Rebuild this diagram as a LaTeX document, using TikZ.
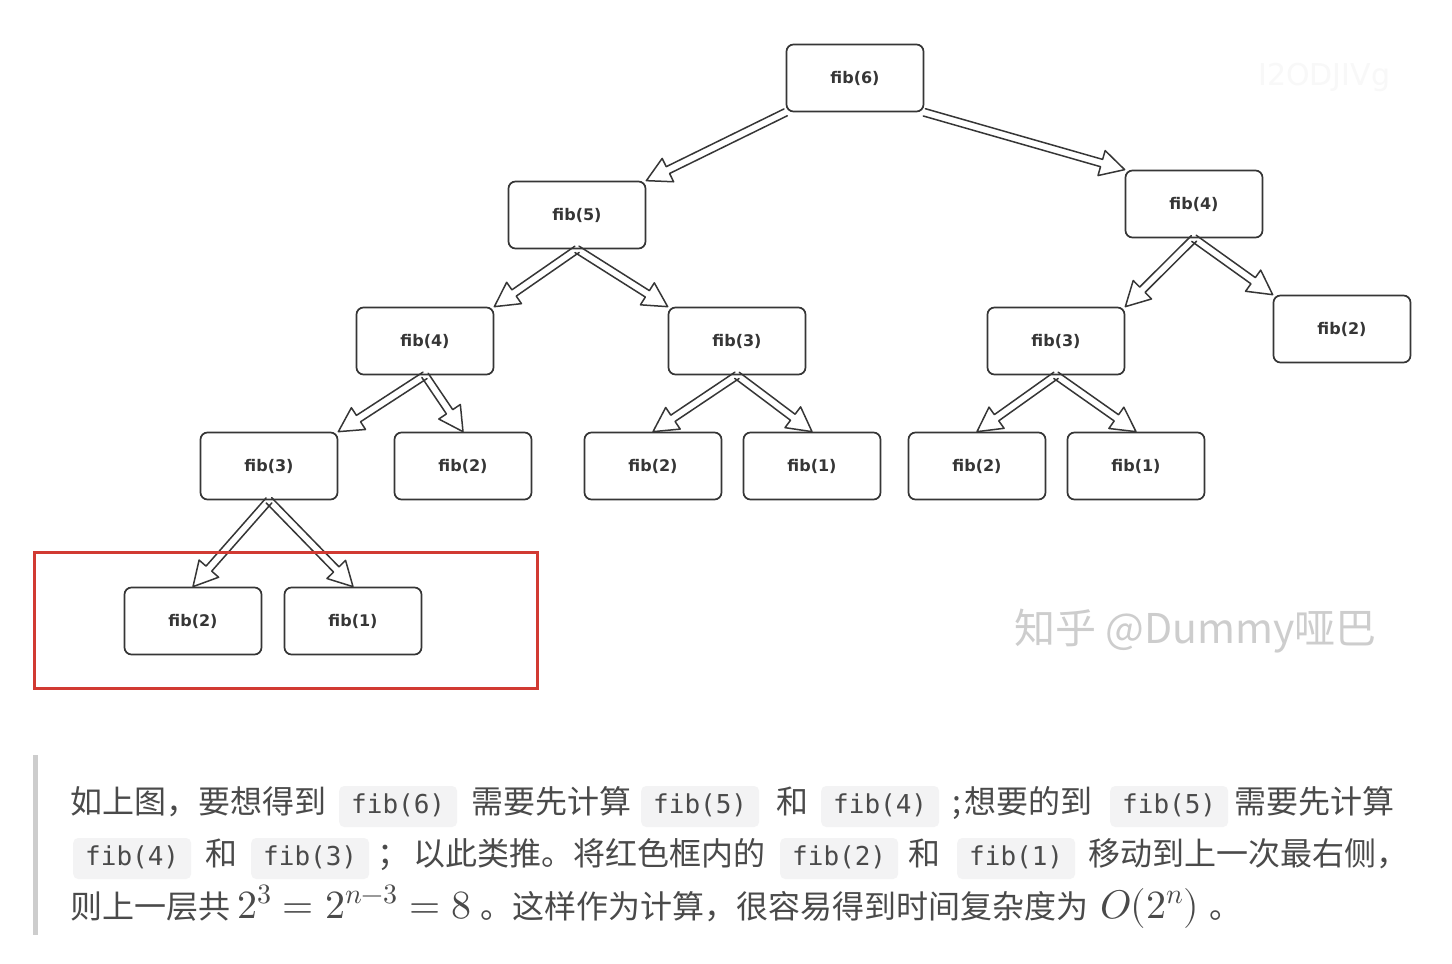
\documentclass[tikz,border=0pt]{standalone}
\usepackage{fontspec}
\usepackage{unicode-math}
\usetikzlibrary{calc}
\newfontfamily\cjkfont{Noto Sans CJK SC}
\newfontfamily\codefont{DejaVu Sans Mono}
\newfontfamily\boxfont{DejaVu Sans}
\definecolor{ink}{HTML}{363636}
\definecolor{txtgray}{HTML}{4A4A4A}
\definecolor{codebg}{HTML}{F3F3F4}
\definecolor{barclr}{HTML}{CDCDCD}
\definecolor{redclr}{HTML}{D13A32}
\definecolor{wmclr}{HTML}{CDCDCD}
\definecolor{faintclr}{HTML}{F8F8F8}
\newcommand\harrow[2]{%
  \coordinate (hb) at ($(#2)!24pt!(#1)$);
  \draw[arrowline] ($(#1)!3.8pt!90:(#2)$) -- ($(hb)!3.8pt!90:(#2)$) -- ($(hb)!13pt!90:(#2)$)
    -- (#2) -- ($(hb)!13pt!-90:(#2)$) -- ($(hb)!3.8pt!-90:(#2)$) -- ($(#1)!3.8pt!-90:(#2)$);
}
\begin{document}
\begin{tikzpicture}[x=1pt,y=-1pt,
  treenode/.style={draw=ink, line width=1.7pt, rounded corners=7pt, fill=white,
    minimum width=137pt, minimum height=67pt, inner sep=0pt,
    font=\boxfont\bfseries\fontsize{16}{18}\selectfont, text=ink},
  arrowline/.style={draw=ink, line width=1.5pt, line join=round, line cap=round},
  txt/.style={anchor=base west, inner sep=0pt, text=txtgray,
    font=\cjkfont\fontsize{32}{38}\selectfont},
  codebox/.style={anchor=base west, fill=codebg, rounded corners=5pt,
    inner xsep=12pt, inner ysep=7pt, text height=20pt, text depth=7pt,
    text=txtgray, font=\codefont\fontsize{26}{30}\selectfont},
  mathtxt/.style={anchor=base west, inner sep=0pt, text=txtgray,
    font=\fontsize{40}{46}\selectfont}]
\fill[white] (0,0) rectangle (1452,964);
\useasboundingbox (0,0) rectangle (1452,964);

% tree nodes
\node[treenode] (f6) at (855,78) {fib(6)};
\node[treenode] (f5) at (577,215) {fib(5)};
\node[treenode] (f4r) at (1194,204) {fib(4)};
\node[treenode] (f4) at (425,341) {fib(4)};
\node[treenode] (f3m) at (737,341) {fib(3)};
\node[treenode] (f3r) at (1056,341) {fib(3)};
\node[treenode] (f2r) at (1342,329) {fib(2)};
\node[treenode] (f3l) at (269,466) {fib(3)};
\node[treenode] (f2a) at (463,466) {fib(2)};
\node[treenode] (f2b) at (653,466) {fib(2)};
\node[treenode] (f1b) at (812,466) {fib(1)};
\node[treenode] (f2c) at (977,466) {fib(2)};
\node[treenode] (f1c) at (1136,466) {fib(1)};
\node[treenode] (f2d) at (193,621) {fib(2)};
\node[treenode] (f1d) at (353,621) {fib(1)};

% hollow arrows
\harrow{f6.south west}{f5.north east}
\harrow{f6.south east}{f4r.north west}
\harrow{f5.south}{f4.north east}
\harrow{f5.south}{f3m.north west}
\harrow{f4r.south}{f3r.north east}
\harrow{f4r.south}{f2r.north west}
\harrow{f4.south}{f3l.north east}
\harrow{f4.south}{f2a.north}
\harrow{f3m.south}{f2b.north}
\harrow{f3m.south}{f1b.north}
\harrow{f3r.south}{f2c.north}
\harrow{f3r.south}{f1c.north}
\harrow{f3l.south}{f2d.north}
\harrow{f3l.south}{f1d.north}

% red frame
\node[draw=redclr, line width=3pt, minimum width=503pt, minimum height=136pt, inner sep=0pt] (redbox) at (285.5,620) {};

% watermarks
\node[anchor=west, inner sep=0pt, text=wmclr, font=\cjkfont\fontsize{41}{45}\selectfont] (wm) at (1014,631) {知乎 @Dummy哑巴};
\node[anchor=west, inner sep=0pt, text=faintclr, font=\boxfont\fontsize{30}{34}\selectfont] (wm2) at (1258,77) {I2ODJIVg};

% quote bar
\fill[barclr] (33,755) rectangle (38,935);

% line 1
\node[txt] (l1a) at (70,813) {如上图，要想得到};
\node[codebox] (l1b) at (339,813) {fib(6)};
\node[txt] (l1c) at (471,813) {需要先计算};
\node[codebox] (l1d) at (641,813) {fib(5)};
\node[txt] (l1e) at (776,813) {和};
\node[codebox] (l1f) at (821,813) {fib(4)};
\node[txt] (l1g) at (952,813) {;};
\node[txt] (l1h) at (964,813) {想要的到};
\node[codebox] (l1i) at (1110,813) {fib(5)};
\node[txt] (l1j) at (1234,813) {需要先计算};

% line 2
\node[codebox] (l2a) at (73,865) {fib(4)};
\node[txt] (l2b) at (205,865) {和};
\node[codebox] (l2c) at (251,865) {fib(3)};
\node[txt] (l2d) at (377,865) {；};
\node[txt] (l2e) at (413,865) {以此类推。将红色框内的};
\node[codebox] (l2f) at (780,865) {fib(2)};
\node[txt] (l2g) at (908,865) {和};
\node[codebox] (l2h) at (957,865) {fib(1)};
\node[txt] (l2i) at (1088,865) {移动到上一次最右侧，};

% line 3
\node[txt] (l3a) at (70,918) {则上一层共};
\node[mathtxt] (l3b) at (237,918) {$2^3 = 2^{n-3} = 8$};
\node[txt] (l3c) at (480,918) {。这样作为计算，很容易得到时间复杂度为};
\node[mathtxt] (l3d) at (1100,918) {$O(2^n)$};
\node[txt] (l3e) at (1209,918) {。};
\end{tikzpicture}
\end{document}
